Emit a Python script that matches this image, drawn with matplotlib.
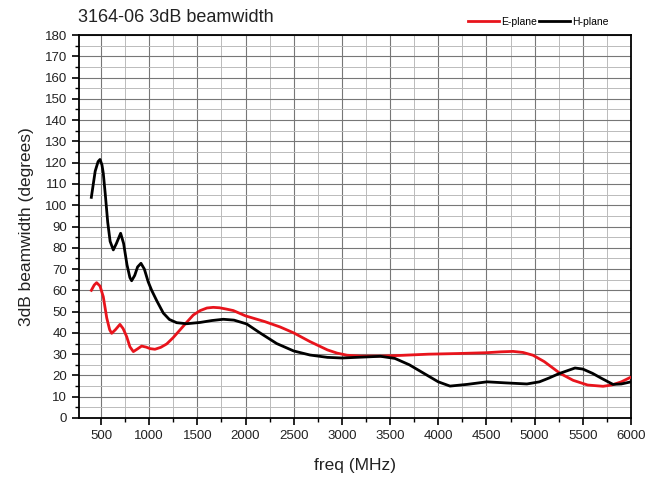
import matplotlib
matplotlib.use("Agg")
import matplotlib.pyplot as plt
from matplotlib.ticker import MultipleLocator

plt.rcParams['font.family'] = ['Liberation Sans', 'DejaVu Sans']

# E-plane (red)
e_freq = [400, 430, 455, 490, 524, 560, 590, 611, 650, 697, 730, 767, 800, 836, 880, 922, 970,
          1010, 1060, 1120, 1182, 1250, 1320, 1390, 1458, 1530, 1600, 1665, 1730, 1800, 1873,
          2000, 2200, 2358, 2500, 2669, 2850, 2950, 3053, 3200, 3400, 3600, 3900, 4200, 4506,
          4650, 4776, 4880, 4983, 5100, 5263, 5400, 5550, 5710, 5800, 5900, 5990]
e_vals = [60, 62.5, 63.6, 62, 57, 47, 41.5, 39.8, 41.5, 44, 42, 38.2, 33.5, 31.2, 32.5, 33.8, 33.3,
          32.6, 32.3, 33.2, 34.8, 37.8, 41.4, 45, 48.4, 50.5, 51.7, 52, 51.8, 51.2, 50.5,
          48, 45.3, 42.8, 40, 35.9, 32, 30.5, 29.5, 29.1, 29.1, 29.4, 30, 30.3, 30.7,
          31.1, 31.3, 30.8, 29.5, 26.5, 21, 17.7, 15.5, 14.9, 15.5, 17, 19]

# H-plane (black)
h_freq = [400, 440, 470, 490, 510, 524, 545, 570, 595, 628, 660, 704, 735, 770, 800, 818, 850,
          880, 915, 950, 990, 1026, 1080, 1147, 1210, 1285, 1389, 1527, 1650, 1769, 1880, 2012,
          2150, 2323, 2500, 2669, 2850, 3000, 3200, 3400, 3550, 3700, 3850, 4000, 4122, 4300,
          4506, 4700, 4920, 5050, 5150, 5250, 5419, 5500, 5600, 5700, 5813, 5900, 6000]
h_vals = [103.7, 116, 120.5, 121.5, 119, 115, 105, 92, 83, 79, 82, 86.8, 82, 72, 66, 64.5, 67,
          71, 72.7, 70, 64, 60, 55, 49.3, 46.3, 44.8, 44.3, 44.9, 45.8, 46.4, 46, 44.2,
          40, 35, 31.5, 29.6, 28.5, 28.2, 28.6, 29, 28, 25, 21, 17, 15, 15.8,
          17, 16.5, 16, 17, 18.8, 20.8, 23.5, 23, 21, 18.5, 15.8, 16, 17]

fig = plt.figure(figsize=(6.62, 4.83), dpi=100)
ax = fig.add_axes([79/662, 1-418/483, (631-79)/662, (418-35)/483])

ax.plot(e_freq, e_vals, color='#e8141c', lw=2.0, label='E-plane', zorder=3,
        solid_joinstyle='round')
ax.plot(h_freq, h_vals, color='black', lw=2.0, label='H-plane', zorder=3,
        solid_joinstyle='round')

ax.set_xlim(272, 6000)
ax.set_ylim(0, 180)
ax.xaxis.set_major_locator(MultipleLocator(500))
ax.xaxis.set_minor_locator(MultipleLocator(250))
ax.yaxis.set_major_locator(MultipleLocator(10))
ax.yaxis.set_minor_locator(MultipleLocator(5))
ax.grid(which='major', color='#777777', lw=0.8)
ax.grid(which='minor', color='#bbbbbb', lw=0.7)
ax.set_axisbelow(True)

ax.tick_params(which='major', direction='out', length=5, width=1.2, labelsize=9.5, colors='black', labelcolor='#222222')
ax.tick_params(which='minor', direction='out', length=3, width=1.0)
for s in ax.spines.values():
    s.set_linewidth(1.3)

ax.set_xlabel('freq (MHz)', fontsize=12.5, color='#222222', labelpad=12)
ax.set_ylabel('3dB beamwidth (degrees)', fontsize=12.5, color='#222222', labelpad=8)

fig.text(78/662, 1-18/483, '3164-06 3dB beamwidth', fontsize=13, color='#222222', va='center', ha='left')
fig.legend(loc='center right', bbox_to_anchor=(613/662, 1-22/483), ncol=2, frameon=False,
           fontsize=7.5, handlelength=3, handletextpad=0.2, columnspacing=0.2, borderaxespad=0)

fig.savefig('out.png', dpi=100)
